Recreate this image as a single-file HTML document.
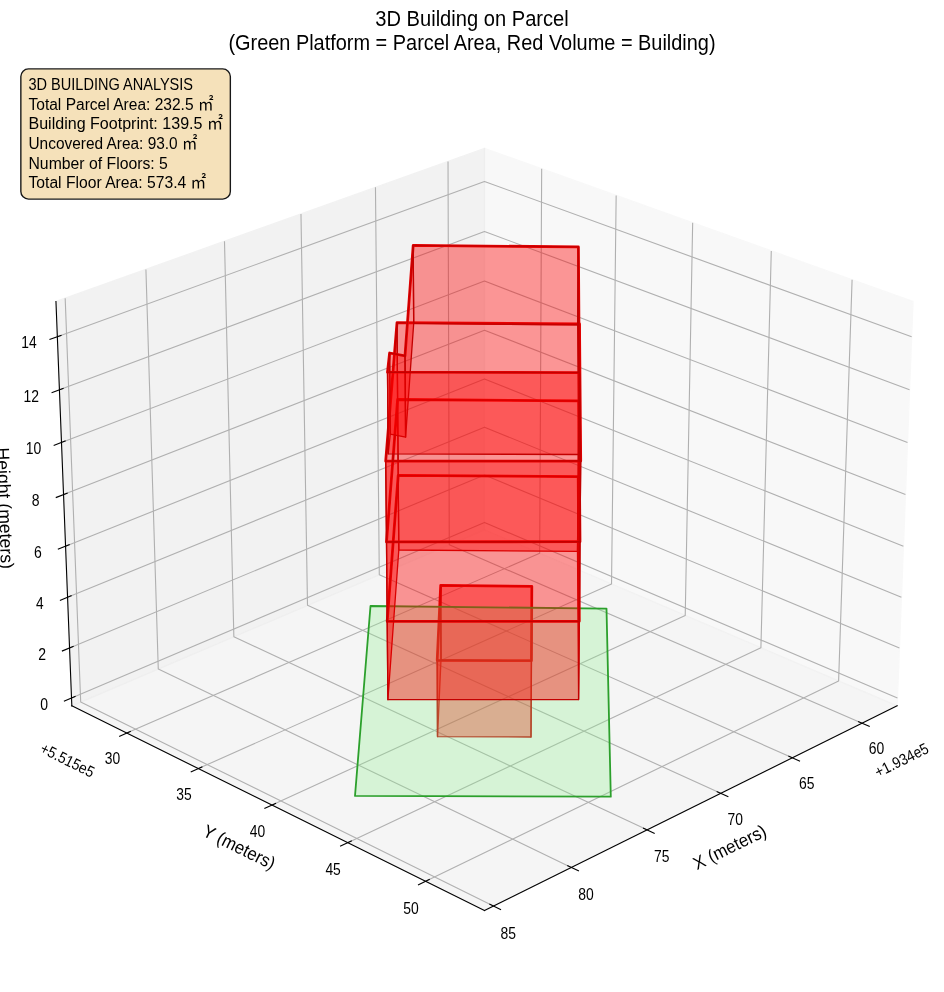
<!DOCTYPE html>
<html lang="en">
<head>
<meta charset="utf-8">
<title>3D Building on Parcel</title>
<style>
html,body{margin:0;padding:0;background:#fff}
body{width:944px;height:992px;overflow:hidden}
svg{display:block;font-family:"Liberation Sans","Noto Sans CJK JP",sans-serif;fill:#000}
.panes path{opacity:.5;stroke-width:1.39;stroke-linejoin:miter}
.grid path{fill:none;stroke:#b0b0b0;stroke-width:1.11;stroke-linejoin:round}
.axes path{fill:none;stroke:#000;stroke-width:1.11;stroke-linecap:square}
.w polygon{fill:#f00;fill-opacity:.4;stroke:#c30000;stroke-width:1.3;stroke-linejoin:round}
.r{fill:none;stroke:#e60000;stroke-width:2.78;stroke-linejoin:round}
.p{fill:#90ee90;fill-opacity:.3;stroke:#2ca02c;stroke-width:1.8;stroke-linejoin:round}
.info rect{fill:#f5deb3;stroke:#000;stroke-width:1.39;opacity:.9}
</style>
</head>
<body>
<svg width="944" height="992" viewBox="0 0 944 992">
<rect width="944" height="992" fill="#fff"/>
<g class="panes">
<path d="M 484.49 529.80 L 897.14 705.86 L 913.01 301.55 L 484.49 148.38 z" fill="#f2f2f2" stroke="#f2f2f2"/>
<path d="M 484.49 529.80 L 71.83 705.86 L 55.96 301.55 L 484.49 148.38 z" fill="#e6e6e6" stroke="#e6e6e6"/>
<path d="M 484.49 529.80 L 71.83 705.86 L 484.49 910.43 L 897.14 705.86 z" fill="#ececec" stroke="#ececec"/>
</g>
<g class="grid">
<path d="M 862.12 723.22 L 449.28 544.82 L 448.02 161.41"/>
<path d="M 792.38 757.79 L 379.29 574.68 L 375.46 187.35"/>
<path d="M 720.72 793.32 L 307.50 605.31 L 300.97 213.97"/>
<path d="M 647.06 829.83 L 233.85 636.73 L 224.49 241.31"/>
<path d="M 571.32 867.38 L 158.28 668.98 L 145.92 269.40"/>
<path d="M 493.39 906.01 L 80.69 702.08 L 65.18 298.26"/>
<path d="M 541.67 168.82 L 539.68 553.35 L 126.75 733.09"/>
<path d="M 616.16 195.44 L 611.52 584.00 L 198.37 768.59"/>
<path d="M 692.67 222.79 L 685.23 615.45 L 272.00 805.09"/>
<path d="M 771.28 250.89 L 760.91 647.73 L 347.74 842.63"/>
<path d="M 852.09 279.77 L 838.61 680.89 L 425.67 881.27"/>
<path d="M 71.52 698.07 L 484.49 522.43 L 897.45 698.07"/>
<path d="M 69.56 647.92 L 484.49 475.01 L 899.42 647.92"/>
<path d="M 67.57 597.29 L 484.49 427.18 L 901.40 597.29"/>
<path d="M 65.56 546.18 L 484.49 378.91 L 903.41 546.18"/>
<path d="M 63.54 494.57 L 484.49 330.21 L 905.44 494.57"/>
<path d="M 61.49 442.46 L 484.49 281.08 L 907.48 442.46"/>
<path d="M 59.43 389.84 L 484.49 231.49 L 909.55 389.84"/>
<path d="M 57.34 336.71 L 484.49 181.46 L 911.63 336.71"/>
</g>
<g class="axes">
<path d="M 897.14 705.86 L 484.49 910.43"/>
<path d="M 858.57 721.69 L 869.23 726.29"/>
<path d="M 788.83 756.22 L 799.51 760.95"/>
<path d="M 717.16 791.70 L 727.86 796.56"/>
<path d="M 643.50 828.17 L 654.20 833.17"/>
<path d="M 567.75 865.67 L 578.46 870.81"/>
<path d="M 489.83 904.25 L 500.54 909.54"/>
<path d="M 71.83 705.86 L 484.49 910.43"/>
<path d="M 130.31 731.54 L 119.64 736.19"/>
<path d="M 201.92 767.00 L 191.24 771.77"/>
<path d="M 275.56 803.46 L 264.86 808.36"/>
<path d="M 351.30 840.95 L 340.59 846.00"/>
<path d="M 429.23 879.54 L 418.52 884.74"/>
<path d="M 71.83 705.86 L 55.96 301.55"/>
<path d="M 75.07 696.56 L 64.41 701.09"/>
<path d="M 73.12 646.43 L 62.41 650.90"/>
<path d="M 71.15 595.83 L 60.38 600.23"/>
<path d="M 69.17 544.74 L 58.34 549.06"/>
<path d="M 67.16 493.16 L 56.28 497.41"/>
<path d="M 65.13 441.07 L 54.19 445.25"/>
<path d="M 63.09 388.48 L 52.09 392.57"/>
<path d="M 61.02 335.37 L 49.97 339.39"/>
</g>
<g class="scene">
<polygon class="r" points="437.2,660.3 531.4,660.7 531.8,586.3 440.7,585.3"/>
<g class="w">
<polygon points="531.5,660.8 441.0,659.8 440.7,585.3 531.8,586.3"/>
<polygon points="441.0,659.8 437.5,736.6 437.2,660.3 440.7,585.3"/>
<polygon points="531.0,737.0 531.5,660.8 531.8,586.3 531.4,660.7"/>
<polygon points="437.5,736.6 531.0,737.0 531.4,660.7 437.2,660.3"/>
</g>
<polygon class="p" points="370.5,606.0 606.5,608.6 610.8,796.7 355.0,795.9"/>
<polygon class="r" points="387.2,621.4 579.3,621.3 578.2,476.7 398.2,475.3"/>
<g class="w">
<polygon points="577.5,551.4 398.8,550.0 398.2,475.3 578.2,476.7"/>
<polygon points="398.8,550.0 387.9,699.7 387.2,621.4 398.2,475.3"/>
<polygon points="578.6,699.6 577.5,551.4 578.2,476.7 579.3,621.3"/>
<polygon points="387.9,699.7 578.6,699.6 579.3,621.3 387.2,621.4"/>
</g>
<polygon class="r" points="386.5,541.8 580.0,541.7 578.8,400.9 397.6,399.5"/>
<g class="w">
<polygon points="578.2,476.7 398.2,475.3 397.6,399.5 578.8,400.9"/>
<polygon points="398.2,475.3 387.2,621.4 386.5,541.8 397.6,399.5"/>
<polygon points="579.3,621.3 578.2,476.7 578.8,400.9 580.0,541.7"/>
<polygon points="387.2,621.4 579.3,621.3 580.0,541.7 386.5,541.8"/>
</g>
<polygon class="r" points="385.7,461.1 580.7,461.0 579.5,324.0 397.0,322.7"/>
<g class="w">
<polygon points="578.8,400.9 397.6,399.5 397.0,322.7 579.5,324.0"/>
<polygon points="397.6,399.5 386.5,541.8 385.7,461.1 397.0,322.7"/>
<polygon points="580.0,541.7 578.8,400.9 579.5,324.0 580.7,461.0"/>
<polygon points="386.5,541.8 580.0,541.7 580.7,461.0 385.7,461.1"/>
</g>
<polygon class="r" points="387.5,372.1 579.3,372.7 578.4,246.9 413.2,245.4 405.0,355.8 389.6,353.0"/>
<g class="w">
<polygon points="577.7,324.9 413.7,323.4 413.2,245.4 578.4,246.9"/>
<polygon points="413.7,323.4 405.6,437.1 405.0,355.8 413.2,245.4"/>
<polygon points="578.6,454.5 577.7,324.9 578.4,246.9 579.3,372.7"/>
<polygon points="405.6,437.1 390.3,434.2 389.6,353.0 405.0,355.8"/>
<polygon points="390.3,434.2 388.2,453.8 387.5,372.1 389.6,353.0"/>
<polygon points="388.2,453.8 578.6,454.5 579.3,372.7 387.5,372.1"/>
</g>
</g>
<g class="ticks">
<text x="868.66" y="754.32" font-size="15.69" textLength="15.5" lengthAdjust="spacingAndGlyphs">60</text>
<text x="799.02" y="789.20" font-size="15.69" textLength="15.5" lengthAdjust="spacingAndGlyphs">65</text>
<text x="727.53" y="825.04" font-size="15.69" textLength="15.4" lengthAdjust="spacingAndGlyphs">70</text>
<text x="653.98" y="861.88" font-size="15.69" textLength="15.4" lengthAdjust="spacingAndGlyphs">75</text>
<text x="578.27" y="899.77" font-size="15.69" textLength="15.5" lengthAdjust="spacingAndGlyphs">80</text>
<text x="500.46" y="938.75" font-size="15.69" textLength="15.5" lengthAdjust="spacingAndGlyphs">85</text>
<text x="878.05" y="777.72" font-size="15.69" textLength="57.9" lengthAdjust="spacingAndGlyphs" transform="rotate(-26.369 878.05 777.72)">+1.934e5</text>
<text x="104.75" y="764.27" font-size="15.69" textLength="15.4" lengthAdjust="spacingAndGlyphs">30</text>
<text x="176.26" y="800.09" font-size="15.69" textLength="15.4" lengthAdjust="spacingAndGlyphs">35</text>
<text x="249.78" y="836.92" font-size="15.69" textLength="15.4" lengthAdjust="spacingAndGlyphs">40</text>
<text x="325.41" y="874.80" font-size="15.69" textLength="15.4" lengthAdjust="spacingAndGlyphs">45</text>
<text x="403.17" y="913.78" font-size="15.69" textLength="15.5" lengthAdjust="spacingAndGlyphs">50</text>
<text x="39.07" y="752.02" font-size="15.69" textLength="58.1" lengthAdjust="spacingAndGlyphs" transform="rotate(-333.631 39.07 752.02)">+5.515e5</text>
<text x="40.24" y="709.78" font-size="15.69" textLength="7.8" lengthAdjust="spacingAndGlyphs">0</text>
<text x="38.14" y="659.64" font-size="15.69" textLength="7.8" lengthAdjust="spacingAndGlyphs">2</text>
<text x="36.08" y="609.01" font-size="15.69" textLength="7.6" lengthAdjust="spacingAndGlyphs">4</text>
<text x="33.88" y="557.89" font-size="15.69" textLength="7.8" lengthAdjust="spacingAndGlyphs">6</text>
<text x="31.72" y="506.29" font-size="15.69" textLength="7.8" lengthAdjust="spacingAndGlyphs">8</text>
<text x="25.66" y="454.18" font-size="15.69" textLength="15.5" lengthAdjust="spacingAndGlyphs">10</text>
<text x="23.46" y="401.56" font-size="15.69" textLength="15.5" lengthAdjust="spacingAndGlyphs">12</text>
<text x="21.30" y="348.42" font-size="15.69" textLength="15.4" lengthAdjust="spacingAndGlyphs">14</text>
</g>
<g class="labels">
<text x="697.08" y="870.23" font-size="18.17" textLength="79.0" lengthAdjust="spacingAndGlyphs" transform="rotate(-26.369 697.08 870.23)">X (meters)</text>
<text x="201.40" y="835.28" font-size="18.17" textLength="78.4" lengthAdjust="spacingAndGlyphs" transform="rotate(-333.631 201.40 835.28)">Y (meters)</text>
<text x="-3.61" y="447.77" font-size="18.17" textLength="121.4" lengthAdjust="spacingAndGlyphs" transform="rotate(-272.248 -3.61 447.77)">Height (meters)</text>
</g>
<g class="info">
<rect x="20.85" y="68.90" width="209.50" height="130.20" rx="7.64" ry="7.64"/>
<text x="28.48" y="90.20" font-size="16.65" textLength="164.6" lengthAdjust="spacingAndGlyphs">3D BUILDING ANALYSIS</text>
<text x="28.48" y="109.80" font-size="16.65" textLength="185.0" lengthAdjust="spacingAndGlyphs">Total Parcel Area: 232.5 ㎡</text>
<text x="28.48" y="129.40" font-size="16.65" textLength="194.5" lengthAdjust="spacingAndGlyphs">Building Footprint: 139.5 ㎡</text>
<text x="28.48" y="149.00" font-size="16.65" textLength="168.9" lengthAdjust="spacingAndGlyphs">Uncovered Area: 93.0 ㎡</text>
<text x="28.48" y="168.60" font-size="16.65" textLength="139.4" lengthAdjust="spacingAndGlyphs">Number of Floors: 5</text>
<text x="28.48" y="188.20" font-size="16.65" textLength="177.8" lengthAdjust="spacingAndGlyphs">Total Floor Area: 573.4 ㎡</text>
</g>
<g class="title">
<text x="375.25" y="26.00" font-size="21.29" textLength="193.5" lengthAdjust="spacingAndGlyphs">3D Building on Parcel</text>
<text x="228.38" y="50.39" font-size="21.29" textLength="487.2" lengthAdjust="spacingAndGlyphs">(Green Platform = Parcel Area, Red Volume = Building)</text>
</g>
</svg>
</body>
</html>
